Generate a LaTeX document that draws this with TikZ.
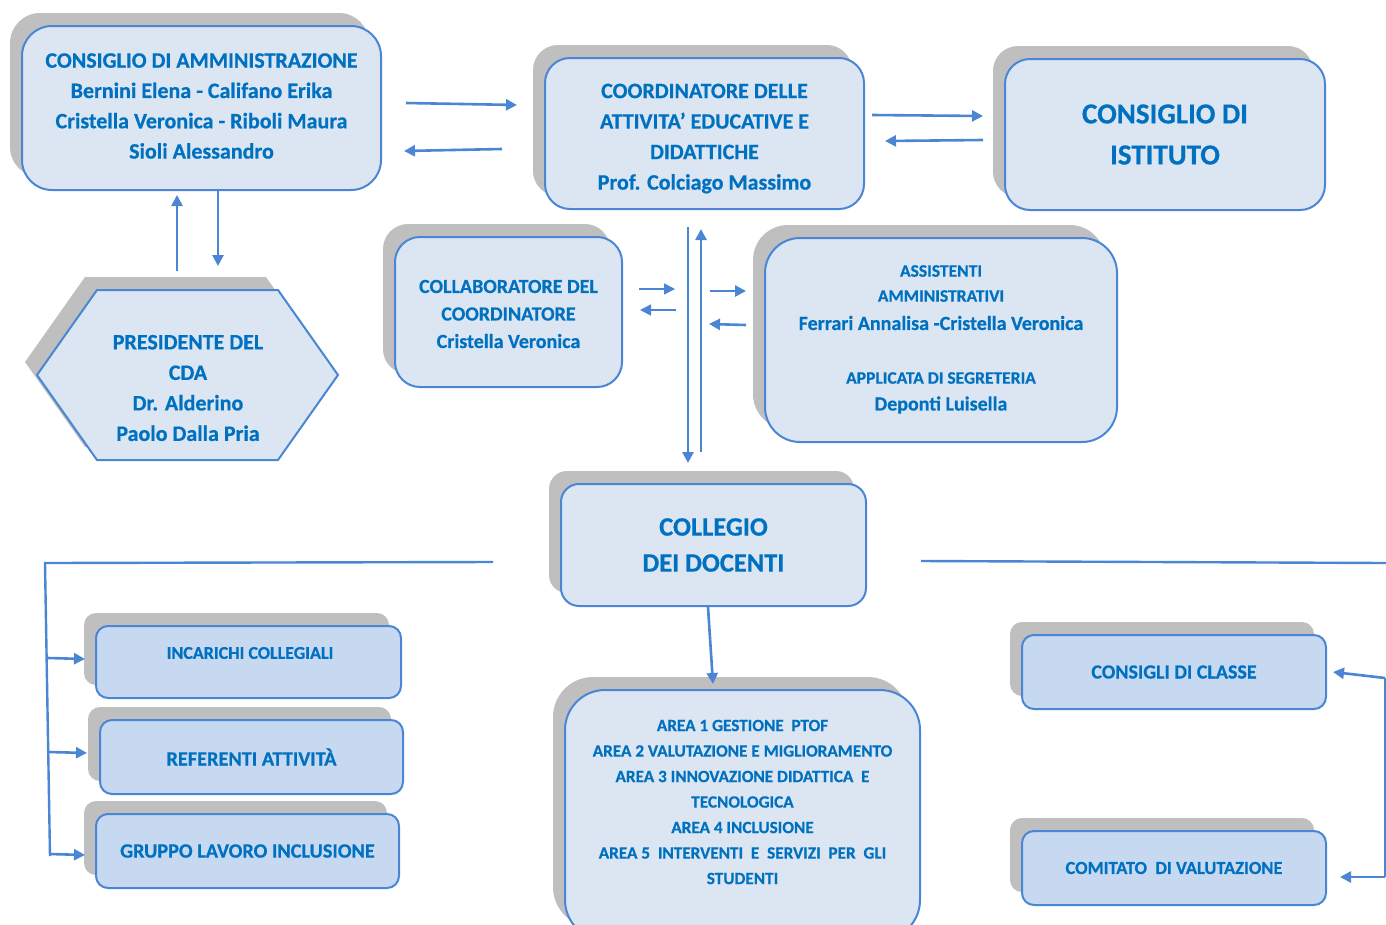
\documentclass[tikz,border=0pt]{standalone}
\usepackage{fontspec}
\setmainfont{Carlito}[BoldFeatures={FakeBold=0.6}]
\usetikzlibrary{shadows,arrows.meta}
\definecolor{txt}{RGB}{0,112,192}
\definecolor{ln}{RGB}{74,134,212}
\definecolor{fillA}{RGB}{220,230,242}
\definecolor{fillB}{RGB}{198,217,241}
\definecolor{sh}{RGB}{191,191,191}
\tikzset{
  shad/.style={general shadow={fill=sh, shadow xshift=-12pt, shadow yshift=13pt}},
  box/.style={draw=ln, line width=2pt, fill=fillA, rounded corners=#1, text=txt,
    align=center, inner sep=0pt, shad},
  boxB/.style={box=#1, fill=fillB},
  lbl/.style={text=txt, align=center, inner sep=0pt},
  arr/.style={draw=ln, line width=2.6pt, -{Triangle[length=11pt,width=11pt]}},
  plainline/.style={draw=ln, line width=2.4pt}
}
\begin{document}
\begin{tikzpicture}[x=1pt,y=-1pt]
\useasboundingbox (0,0) rectangle (1386,924);

% boxes
\node[box=30, minimum width=359pt, minimum height=164pt] (cda) at (201.5,108) {};
\node[lbl, font=\fontsize{22}{30.3}\selectfont\bfseries] (cdatxt) at (201.5,106)
  {CONSIGLIO DI AMMINISTRAZIONE\\Bernini Elena - Califano Erika\\Cristella Veronica - Riboli Maura\\Sioli Alessandro};

\node[box=25, minimum width=319pt, minimum height=151pt] (coord) at (704.5,133.5) {};
\node[lbl, font=\fontsize{22}{30.5}\selectfont\bfseries] (coordtxt) at (704.5,138.5)
  {COORDINATORE DELLE\\ATTIVITA' EDUCATIVE E\\DIDATTICHE\\Prof. Colciago Massimo};

\node[box=25, minimum width=320pt, minimum height=151pt,
  font=\fontsize{29}{41}\selectfont\bfseries] (ist) at (1165,134.5)
  {CONSIGLIO DI\\ISTITUTO};

\draw[draw=ln, line width=2pt, fill=fillA, shad]
  (97,290) -- (278,290) -- (338,375) -- (278,460) -- (97,460) -- (37,375) -- cycle;
\node[lbl, font=\fontsize{22}{30.5}\selectfont\bfseries] (pres) at (188,388)
  {PRESIDENTE DEL\\CDA\\Dr. Alderino\\Paolo Dalla Pria};

\node[box=25, minimum width=227pt, minimum height=150pt] (coll) at (508.5,312) {};
\node[lbl, font=\fontsize{20}{27.5}\selectfont\bfseries] (colltxt) at (508.5,314)
  {COLLABORATORE DEL\\COORDINATORE\\Cristella Veronica};

\node[box=35, minimum width=352pt, minimum height=204pt] (ass) at (941,340) {};
\node[lbl, font=\fontsize{17.5}{25}\selectfont\bfseries] (ass1) at (941,283.5)
  {ASSISTENTI\\AMMINISTRATIVI};
\node[lbl, font=\fontsize{20}{27}\selectfont\bfseries] (ass2) at (941,323) {Ferrari Annalisa -Cristella Veronica};
\node[lbl, font=\fontsize{17.5}{25}\selectfont\bfseries] (ass3) at (941,378) {APPLICATA DI SEGRETERIA};
\node[lbl, font=\fontsize{20}{27}\selectfont\bfseries] (ass4) at (941,405) {Deponti Luisella};

\node[box=18, minimum width=305pt, minimum height=122pt,
  font=\fontsize{26.5}{36}\selectfont\bfseries] (colleg) at (713.5,545)
  {COLLEGIO\\DEI DOCENTI};

\node[box=40, minimum width=355pt, minimum height=250pt] (aree) at (742.5,815) {};
\node[lbl, font=\fontsize{17.2}{25.5}\selectfont\bfseries] (areetxt) at (742.5,802)
  {AREA 1 GESTIONE\ \ PTOF\\AREA 2 VALUTAZIONE E MIGLIORAMENTO\\AREA 3 INNOVAZIONE DIDATTICA\ \ E\\TECNOLOGICA\\AREA 4 INCLUSIONE\\AREA 5\ \ INTERVENTI\ \ E\ \ SERVIZI\ \ PER\ \ GLI\\STUDENTI};

\node[boxB=12, minimum width=305pt, minimum height=72pt] (inc) at (248.5,662) {};
\node[lbl, font=\fontsize{18}{20}\selectfont\bfseries] (inctxt) at (250,653) {INCARICHI COLLEGIALI};

\node[boxB=12, minimum width=303pt, minimum height=74pt,
  font=\fontsize{20.3}{24}\selectfont\bfseries] (ref) at (251.5,757) {REFERENTI ATTIVITÀ};

\node[boxB=12, minimum width=303pt, minimum height=74pt,
  font=\fontsize{20.3}{24}\selectfont\bfseries] (grp) at (247.5,851) {GRUPPO LAVORO INCLUSIONE};

\node[boxB=12, minimum width=304pt, minimum height=74pt,
  font=\fontsize{20}{24}\selectfont\bfseries] (cdc) at (1174,672) {CONSIGLI DI CLASSE};

\node[boxB=12, minimum width=304pt, minimum height=74pt,
  font=\fontsize{18.4}{24}\selectfont\bfseries] (com) at (1174,868) {COMITATO\ \ DI VALUTAZIONE};

% connector end points
\coordinate (a1s) at (406,103); \coordinate (a1e) at (517,105);
\coordinate (a2s) at (502,149); \coordinate (a2e) at (404,151);
\coordinate (b1s) at (872,115); \coordinate (b1e) at (983,116);
\coordinate (b2s) at (983,140); \coordinate (b2e) at (885,141);
\coordinate (c1s) at (177,271); \coordinate (c1e) at (177,195);
\coordinate (c2s) at (218,191); \coordinate (c2e) at (218,266);
\coordinate (d1s) at (639,289); \coordinate (d1e) at (675,289);
\coordinate (d2s) at (676,310); \coordinate (d2e) at (640,310);
\coordinate (v1s) at (688,227); \coordinate (v1e) at (688,463);
\coordinate (v2s) at (701,452); \coordinate (v2e) at (701,229);
\coordinate (e1s) at (710,291); \coordinate (e1e) at (746,291);
\coordinate (e2s) at (746,325); \coordinate (e2e) at (709,324);
\coordinate (f1s) at (708,607); \coordinate (f1e) at (713,684);
\coordinate (L0) at (493,562); \coordinate (L1) at (45,563); \coordinate (L2) at (50,856);
\coordinate (g1s) at (48,658); \coordinate (g1e) at (85,659);
\coordinate (g2s) at (49,752); \coordinate (g2e) at (87,753);
\coordinate (g3s) at (50,854); \coordinate (g3e) at (85,855);
\coordinate (R0) at (921,561); \coordinate (R1) at (1386,563);
\coordinate (R2) at (1385,678); \coordinate (R3) at (1385,877);
\coordinate (h1e) at (1333,672);
\coordinate (h2e) at (1340,877);

% connectors
\draw[arr] (a1s) -- (a1e);
\draw[arr] (a2s) -- (a2e);
\draw[arr] (b1s) -- (b1e);
\draw[arr] (b2s) -- (b2e);
\draw[arr] (c1s) -- (c1e);
\draw[arr] (c2s) -- (c2e);
\draw[arr, line width=1.6pt] (d1s) -- (d1e);
\draw[arr, line width=1.6pt] (d2s) -- (d2e);
\draw[arr] (v1s) -- (v1e);
\draw[arr] (v2s) -- (v2e);
\draw[arr] (e1s) -- (e1e);
\draw[arr] (e2s) -- (e2e);
\draw[arr] (f1s) -- (f1e);
\draw[plainline] (L0) -- (L1) -- (L2);
\draw[arr] (g1s) -- (g1e);
\draw[arr] (g2s) -- (g2e);
\draw[arr] (g3s) -- (g3e);
\draw[plainline] (R0) -- (R1);
\draw[plainline] (R2) -- (R3);
\draw[arr] (R2) -- (h1e);
\draw[arr] (R3) -- (h2e);
\end{tikzpicture}
\end{document}
